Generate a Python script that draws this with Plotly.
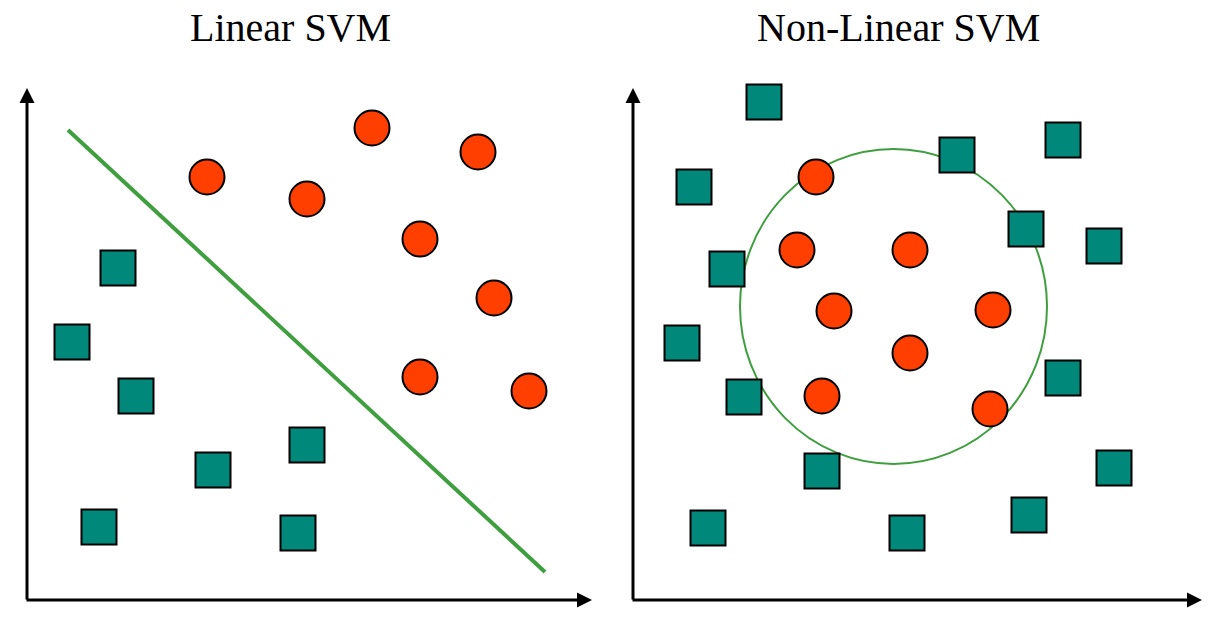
import plotly.graph_objects as go

W, H = 1217, 628
OFF = 8  # page body margin offset
L0 = (27, 600)
left_circ_x = [207, 307, 372, 478, 420, 494, 420, 529]
left_circ_y = [177, 199, 128, 152, 239, 298, 377, 391]
left_sq_x = [118, 72, 136, 213, 307, 99, 298]
left_sq_y = [268, 342, 396, 470, 445, 527, 533]
line_x = [68, 545]
line_y = [130, 572]

R0 = (633, 600)
right_circ_x = [816, 797, 910, 834, 993, 910, 822, 990]
right_circ_y = [177, 250, 250, 311, 310, 353, 396, 409]
right_sq_x = [764, 880, 993, 694, 957, 1063, 727, 1026, 1104, 682, 744, 1063, 822, 1114, 708, 907, 1029]
right_sq_y = [102, 89, 84, 187, 155, 140, 269, 229, 246, 343, 397, 378, 471, 468, 528, 533, 515]
boundary = dict(x0=740, x1=1047, y0=464, y1=149)

RED, TEAL, GREEN = "#FF3F00", "#00897B", "#3F9F3F"

def tx(xs, o): return [v - o[0] for v in xs]
def ty(ys, o): return [o[1] - v for v in ys]
def px(x): return (x - OFF) / W
def py(y): return 1 - (y - OFF) / H

fig = go.Figure()
mk_c = dict(symbol="circle", size=35, color=RED, line=dict(color="black", width=2))
mk_s = dict(symbol="square", size=35, color=TEAL, line=dict(color="black", width=2))

fig.add_trace(go.Scatter(x=tx(line_x, L0), y=ty(line_y, L0), mode="lines",
                         line=dict(color=GREEN, width=4), xaxis="x", yaxis="y"))
fig.add_trace(go.Scatter(x=tx(left_circ_x, L0), y=ty(left_circ_y, L0), mode="markers", marker=mk_c, xaxis="x", yaxis="y", cliponaxis=False))
fig.add_trace(go.Scatter(x=tx(left_sq_x, L0), y=ty(left_sq_y, L0), mode="markers", marker=mk_s, xaxis="x", yaxis="y", cliponaxis=False))
fig.add_trace(go.Scatter(x=tx(right_circ_x, R0), y=ty(right_circ_y, R0), mode="markers", marker=mk_c, xaxis="x2", yaxis="y2", cliponaxis=False))
fig.add_trace(go.Scatter(x=tx(right_sq_x, R0), y=ty(right_sq_y, R0), mode="markers", marker=mk_s, xaxis="x2", yaxis="y2", cliponaxis=False))

ax_common = dict(visible=False, showgrid=False, zeroline=False)
fig.update_layout(
    width=W, height=H, margin=dict(l=0, r=0, t=0, b=0), showlegend=False,
    plot_bgcolor="white", paper_bgcolor="white",
    xaxis=dict(domain=[px(L0[0]), px(590)], range=[0, 590-L0[0]], **ax_common),
    yaxis=dict(domain=[py(L0[1]), py(90)], range=[0, L0[1]-90], **ax_common),
    xaxis2=dict(domain=[px(R0[0]), px(1200)], range=[0, 1200-R0[0]], **ax_common),
    yaxis2=dict(domain=[py(R0[1]), py(90)], range=[0, R0[1]-90], **ax_common),
)
fig.add_shape(type="circle", xref="x2", yref="y2",
              x0=boundary["x0"]-R0[0], x1=boundary["x1"]-R0[0],
              y0=R0[1]-boundary["y0"], y1=R0[1]-boundary["y1"],
              line=dict(color=GREEN, width=2), layer="below")

def arrow(hx, hy, tx_, ty_):
    fig.add_annotation(x=px(hx), y=py(hy), xref="paper", yref="paper",
                       ax=tx_-hx, ay=ty_-hy, axref="pixel", ayref="pixel",
                       showarrow=True, arrowhead=2, arrowsize=1, arrowwidth=3,
                       arrowcolor="black", text="")
arrow(27, 88, 27, 601)
arrow(592, 600, 25, 600)
arrow(633, 88, 633, 601)
arrow(1202, 600, 631, 600)

for t, x in [("Linear SVM", 290), ("Non-Linear SVM", 898)]:
    fig.add_annotation(x=px(x), y=py(28), xref="paper", yref="paper", text=t, showarrow=False,
                       xanchor="center", yanchor="middle",
                       font=dict(family="Liberation Serif", size=40, color="black"))

fig.write_html("out.html")
